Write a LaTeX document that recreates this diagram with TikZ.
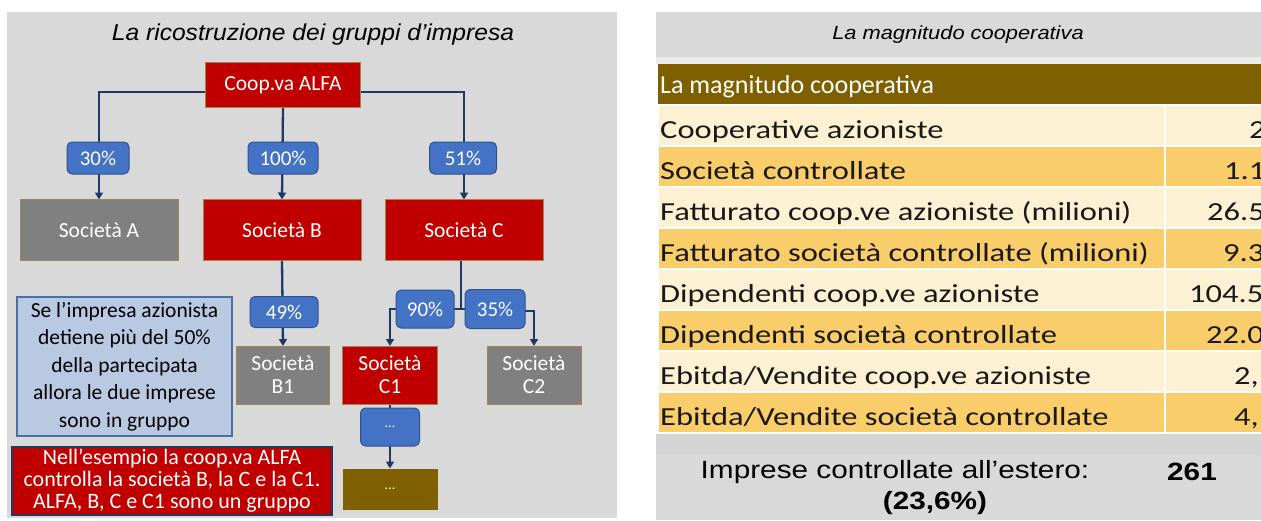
\documentclass[tikz,border=0pt]{standalone}
\usepackage{fontspec}
\setmainfont{Carlito}
\newfontfamily\wide[FakeStretch=1.25]{Carlito}
\newfontfamily\arialA[FakeStretch=1.07]{Liberation Sans}
\newfontfamily\arialB[FakeStretch=1.15]{Liberation Sans}
\newfontfamily\arialC[FakeStretch=1.19]{Liberation Sans}
\usetikzlibrary{arrows.meta}
\definecolor{cred}{HTML}{C00000}
\definecolor{cgray}{HTML}{808080}
\definecolor{cborder}{HTML}{A08550}
\definecolor{cblue}{HTML}{4472C4}
\definecolor{cbluedark}{HTML}{2F528F}
\definecolor{cnavy}{HTML}{1F3864}
\definecolor{cinfo}{HTML}{B9C9E2}
\definecolor{cinfob}{HTML}{4A6FA5}
\definecolor{cbrown}{HTML}{7F6000}
\definecolor{cpanel}{HTML}{D9D9D9}
\definecolor{cgold}{HTML}{F9CD6A}
\definecolor{ccream}{HTML}{FDF1D3}
\pgfdeclarelayer{back}
\pgfdeclarelayer{mid}
\pgfsetlayers{back,mid,main}
\tikzset{
  base/.style={inner sep=0pt, outer sep=0pt, align=center, text=white, font=\fontsize{21.5}{23}\selectfont},
  redbox/.style={base, fill=cred, draw=cborder, line width=1pt},
  graybox/.style={base, fill=cgray, draw=cborder, line width=1pt},
  pct/.style={base, fill=cblue, draw=cbluedark, line width=1pt, rounded corners=5pt, font=\fontsize{21}{23}\selectfont},
  conn/.style={draw=cnavy, line width=2.3pt},
  arr/.style={conn, -{Triangle[length=7pt,width=8pt]}},
  rowlab/.style={inner sep=0pt, anchor=base west, font=\wide\fontsize{26}{28}\selectfont, text=black!90},
}
\begin{document}
\begin{tikzpicture}[x=1pt,y=-1pt]
\useasboundingbox (0,0) rectangle (1261,520);
% ---------- left panel ----------
\begin{pgfonlayer}{back}
\fill[cpanel] (7,12) rectangle (617,518);
\end{pgfonlayer}
\node[inner sep=0pt, font=\arialA\itshape\fontsize{23}{25}\selectfont] (ltitle) at (313,35) {La ricostruzione dei gruppi d’impresa};

\node[redbox, minimum width=155, minimum height=45] (alfa) at (283,85) {Coop.va ALFA};
\node[pct, minimum width=62, minimum height=32] (pA) at (98,158) {30\%};
\node[pct, minimum width=70, minimum height=32] (pB) at (283,158) {100\%};
\node[pct, minimum width=67, minimum height=32] (pC) at (463,158) {51\%};
\node[graybox, minimum width=158, minimum height=61] (sA) at (99,230) {Società A};
\node[redbox, minimum width=158, minimum height=61] (sB) at (282,230) {Società B};
\node[redbox, minimum width=158, minimum height=61] (sC) at (464,230) {Società C};
\node[pct, minimum width=68, minimum height=31] (p49) at (284,312) {49\%};
\node[pct, minimum width=58, minimum height=38] (p90) at (425,309) {90\%};
\node[pct, minimum width=60, minimum height=39] (p35) at (495,309) {35\%};
\node[graybox, minimum width=93, minimum height=58] (sB1) at (283,375) {Società\\B1};
\node[redbox, minimum width=95, minimum height=58] (sC1) at (390,375) {Società\\C1};
\node[graybox, minimum width=94, minimum height=58] (sC2) at (534,375) {Società\\C2};
\node[pct, minimum width=59, minimum height=38, font=\fontsize{14}{16}\selectfont] (pdots) at (390,427) {...};
\node[base, fill=cbrown, minimum width=95, minimum height=41, font=\fontsize{14}{16}\selectfont] (brown) at (390,489) {...};

\node[base, text=black, fill=cinfo, draw=cinfob, line width=1.2pt, minimum width=215, minimum height=139, font=\fontsize{21.5}{27.5}\selectfont] (info) at (124.5,366.5)
  {Se l’impresa azionista\\detiene più del 50\%\\della partecipata\\allora le due imprese\\sono in gruppo};
\node[base, fill=cred, draw=cnavy, line width=1.2pt, minimum width=320, minimum height=68, font=\fontsize{22}{22}\selectfont] (ex) at (172,481)
  {Nell’esempio la coop.va ALFA\\controlla la società B, la C e la C1.\\ALFA, B, C e C1 sono un gruppo};

\begin{pgfonlayer}{mid}
\draw[arr] ([yshift=-7pt]alfa.west) -| (sA.north);
\draw[arr] (alfa.south) -- (sB.north);
\draw[arr] ([yshift=-7pt]alfa.east) -| (sC.north);
\draw[arr] (sB.south) -- (sB1.north);
\draw[conn] ([xshift=-3pt]sC.south) -- ([xshift=-3pt]sC.south |- p90.east);
\draw[conn] (p90.east) -- (p35.west);
\draw[arr] (p90.west) -| (sC1.north);
\draw[arr] ([yshift=-2pt]p35.east) -| (sC2.north);
\draw[arr] (sC1.south) -- (brown.north);
\end{pgfonlayer}

% ---------- right panel ----------
\begin{pgfonlayer}{back}
\fill[cpanel] (656,12) rectangle (1261,57);
\fill[black!8] (656,57) rectangle (1261,64);
\fill[cbrown] (658,64) rectangle (1261,105);
\fill[ccream, draw=white, line width=2pt] (658,105) rectangle (1165,146);
\fill[ccream, draw=white, line width=2pt] (1165,105) rectangle (1263,146);
\fill[cgold, draw=white, line width=2pt] (658,146) rectangle (1165,187);
\fill[cgold, draw=white, line width=2pt] (1165,146) rectangle (1263,187);
\fill[ccream, draw=white, line width=2pt] (658,187) rectangle (1165,228);
\fill[ccream, draw=white, line width=2pt] (1165,187) rectangle (1263,228);
\fill[cgold, draw=white, line width=2pt] (658,228) rectangle (1165,269);
\fill[cgold, draw=white, line width=2pt] (1165,228) rectangle (1263,269);
\fill[ccream, draw=white, line width=2pt] (658,269) rectangle (1165,310);
\fill[ccream, draw=white, line width=2pt] (1165,269) rectangle (1263,310);
\fill[cgold, draw=white, line width=2pt] (658,310) rectangle (1165,351);
\fill[cgold, draw=white, line width=2pt] (1165,310) rectangle (1263,351);
\fill[ccream, draw=white, line width=2pt] (658,351) rectangle (1165,392);
\fill[ccream, draw=white, line width=2pt] (1165,351) rectangle (1263,392);
\fill[cgold, draw=white, line width=2pt] (658,392) rectangle (1165,433);
\fill[cgold, draw=white, line width=2pt] (1165,392) rectangle (1263,433);
\fill[black!17] (656,434) rectangle (1261,455);
\fill[cpanel] (656,455) rectangle (1261,520);
\end{pgfonlayer}
\node[inner sep=0pt, font=\arialB\itshape\fontsize{19}{21}\selectfont] (rtitle) at (958,35) {La magnitudo cooperativa};
\node[rowlab, text=white, font=\fontsize{26}{28}\selectfont] (hdr) at (660,93) {La magnitudo cooperativa};
\node[rowlab] (r1) at (660,138) {Cooperative azioniste};
\node[rowlab] (r2) at (660,179) {Società controllate};
\node[rowlab] (r3) at (660,220) {Fatturato coop.ve azioniste (milioni)};
\node[rowlab] (r4) at (660,261) {Fatturato società controllate (milioni)};
\node[rowlab] (r5) at (660,302) {Dipendenti coop.ve azioniste};
\node[rowlab] (r6) at (660,343) {Dipendenti società controllate};
\node[rowlab] (r7) at (660,384) {Ebitda/Vendite coop.ve azioniste};
\node[rowlab] (r8) at (660,425) {Ebitda/Vendite società controllate};
\node[rowlab] (v1) at (1249,138) {2};
\node[rowlab] (v2) at (1224,179) {1.1};
\node[rowlab] (v3) at (1207,220) {26.5};
\node[rowlab] (v4) at (1223,261) {9.3};
\node[rowlab] (v5) at (1189,302) {104.5};
\node[rowlab] (v6) at (1206,343) {22.0};
\node[rowlab] (v7) at (1234,384) {2,};
\node[rowlab] (v8) at (1234,425) {4,};
\node[inner sep=0pt, font=\arialC\fontsize{25}{27}\selectfont] (imp) at (895,472) {Imprese controllate all’estero:};
\node[inner sep=0pt, font=\arialC\bfseries\fontsize{25}{27}\selectfont] (n261) at (1192,472) {261};
\node[inner sep=0pt, font=\arialC\bfseries\fontsize{25}{27}\selectfont] (perc) at (935,503) {(23,6\%)};
\end{tikzpicture}
\end{document}
